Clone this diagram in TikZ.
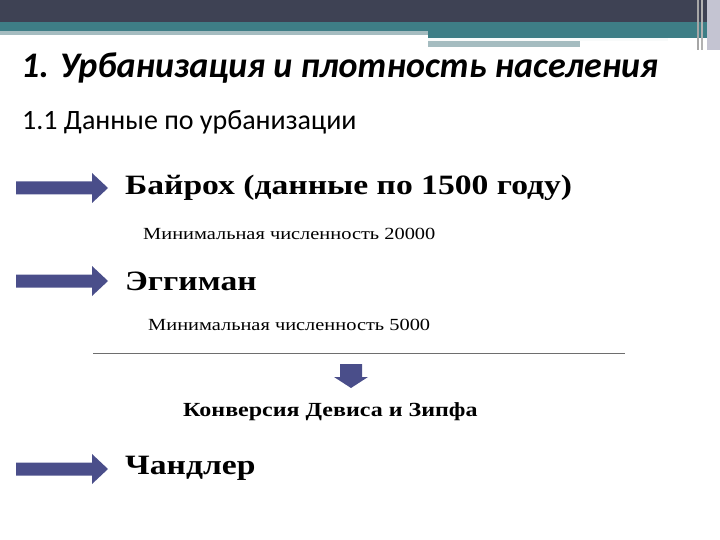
\documentclass[tikz,border=0pt]{standalone}
\usepackage{fontspec}
\setmainfont{Liberation Serif}
\newfontfamily\wideserif[FakeStretch=1.2]{Liberation Serif}
\newfontfamily\calibri{Carlito}
\definecolor{darkbar}{RGB}{62,66,84}
\definecolor{tealbar}{RGB}{62,126,134}
\definecolor{palebar}{RGB}{165,188,192}
\definecolor{lavbar}{RGB}{196,196,210}
\definecolor{arrowblue}{RGB}{74,78,138}
\definecolor{rulegray}{RGB}{110,110,110}
\begin{document}
\begin{tikzpicture}[x=1pt,y=-1pt,
  txt/.style={anchor=base west,inner sep=0pt},
  head/.style={txt,font=\wideserif\bfseries\fontsize{28}{28}\selectfont},
  minor/.style={txt,font=\wideserif\fontsize{17}{17}\selectfont},
  rarr/.pic={\fill[arrowblue] (0,-6.5) -- (76,-6.5) -- (76,-15) -- (92,0) -- (76,15) -- (76,6.5) -- (0,6.5) -- cycle;}]
\useasboundingbox (0,0) rectangle (720,540);
% top bar
\fill[darkbar] (0,0) rectangle (720,22);
\fill[tealbar] (0,22) rectangle (720,31);
\fill[tealbar] (428,31) rectangle (720,38);
\fill[palebar] (0,31) rectangle (428,35);
\fill[white!92!palebar] (428,38) rectangle (668,41);
\fill[palebar] (428,41) rectangle (580,47);
\fill[lavbar] (707,0) rectangle (720,50);
\fill[gray!70] (697,0) rectangle (698.5,50);
\fill[gray!60] (701,0) rectangle (702.5,50);
% titles
\node[txt,font=\calibri\bfseries\itshape\fontsize{36}{36}\selectfont] (title) at (21,78) {1. Урбанизация и плотность населения};
\node[txt,font=\calibri\fontsize{28}{28}\selectfont] (sub) at (22,130) {1.1 Данные по урбанизации};
% rows
\pic at (16,188) {rarr};
\node[head] (bai) at (125,195) {Байрох (данные по 1500 году)};
\node[minor] (m1) at (143,240) {Минимальная численность 20000};
\pic at (16,281) {rarr};
\node[head] (egg) at (125,290) {Эггиман};
\node[minor] (m2) at (148,330) {Минимальная численность 5000};
\coordinate (l1) at (93,353);
\coordinate (l2) at (625,353);
\draw[rulegray,line width=0.8pt] (l1) -- (l2);
\fill[arrowblue] (340,364) -- (362,364) -- (362,377) -- (368,377) -- (351,388) -- (334,377) -- (340,377) -- cycle;
\node[txt,font=\wideserif\bfseries\fontsize{20}{20}\selectfont] (conv) at (183,416) {Конверсия Девиса и Зипфа};
\pic at (16,469) {rarr};
\node[head] (chan) at (125,474) {Чандлер};
\end{tikzpicture}
\end{document}
